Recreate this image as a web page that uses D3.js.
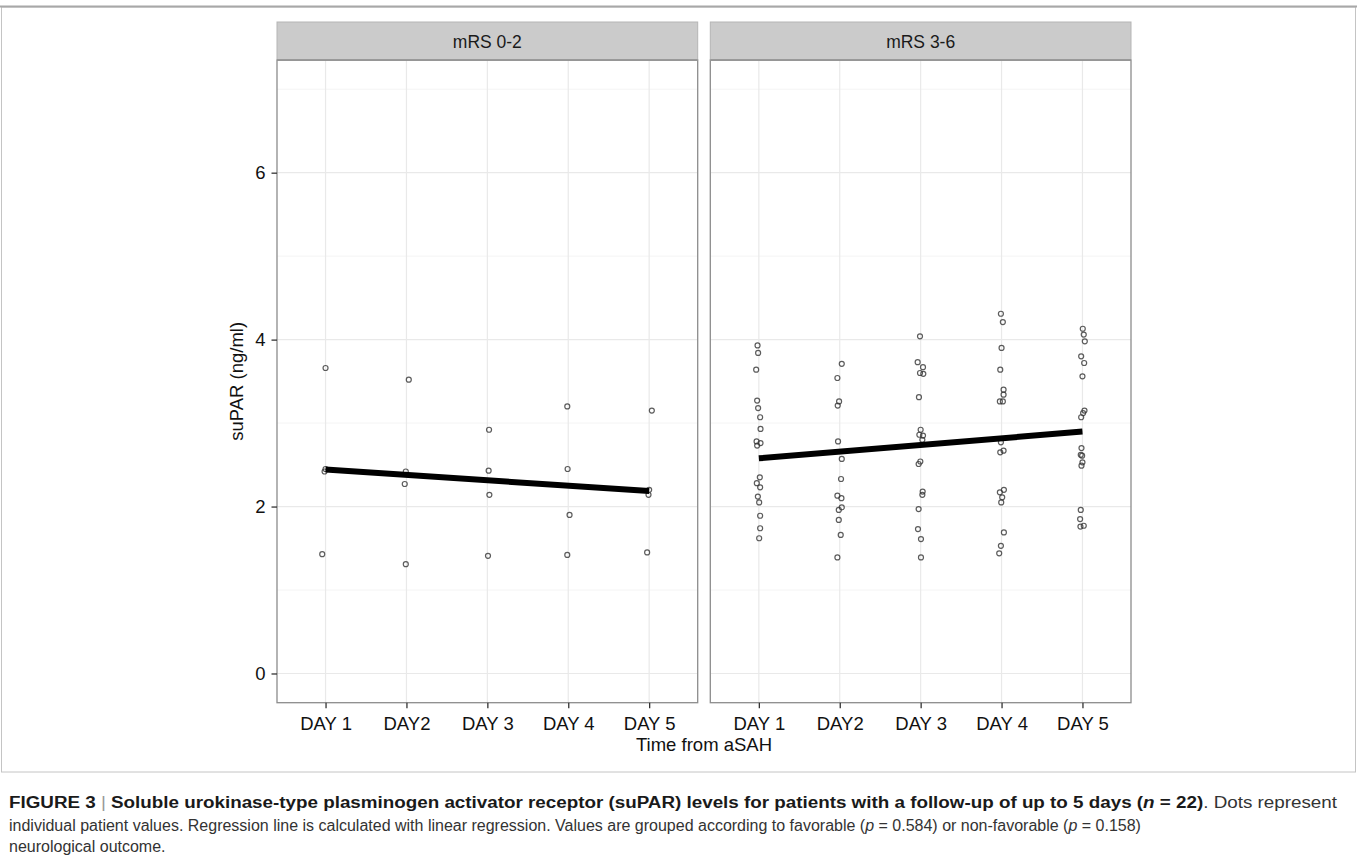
<!DOCTYPE html>
<html>
<head>
<meta charset="utf-8">
<script src="https://cdn.jsdelivr.net/npm/d3@7"></script>
<style>
  html, body { margin: 0; padding: 0; background: #fff; }
  svg { display: block; font-family: "Liberation Sans", Arial, sans-serif; }
</style>
</head>
<body>
<svg id="chart" width="1357" height="868"></svg>
<script>
// ---------------- DATA ----------------
const days = ["DAY 1", "DAY2", "DAY 3", "DAY 4", "DAY 5"];
const panelLabels = ["mRS 0-2", "mRS 3-6"];
const yTicks = [0, 2, 4, 6];
const yMinorTicks = [1, 3, 5, 7];

// mRS 0-2 (favorable outcome), values per day
const favorableValues = [
  [3.66, 2.45, 2.42, 1.43],
  [3.52, 2.42, 2.27, 1.31],
  [2.92, 2.43, 2.14, 1.41],
  [3.20, 2.45, 1.90, 1.42],
  [3.15, 2.20, 2.14, 1.45]
];
// horizontal jitter of each point, as a fraction of the day spacing
const favorableJitter = [
  [0, 0, -0.012, -0.041],
  [0.029, -0.008, -0.021, -0.008],
  [0.021, 0.016, 0.025, 0.008],
  [-0.012, -0.008, 0.016, -0.012],
  [0.033, 0, -0.008, -0.025]
];

// mRS 3-6 (non-favorable outcome), values per day
const unfavorableValues = [
  [3.93, 3.84, 3.64, 3.27, 3.18, 3.07, 2.93, 2.78, 2.76, 2.73, 2.35, 2.28, 2.23, 2.12, 2.05, 1.89, 1.74, 1.62],
  [3.71, 3.54, 3.26, 3.21, 2.78, 2.57, 2.33, 2.13, 2.10, 1.99, 1.96, 1.84, 1.66, 1.39],
  [4.04, 3.73, 3.67, 3.60, 3.59, 3.31, 2.92, 2.86, 2.85, 2.80, 2.54, 2.51, 2.18, 2.14, 1.97, 1.73, 1.61, 1.39],
  [4.31, 4.21, 3.90, 3.64, 3.40, 3.34, 3.26, 3.26, 2.77, 2.65, 2.67, 2.20, 2.17, 2.11, 2.05, 1.69, 1.53, 1.44],
  [4.13, 4.06, 3.98, 3.80, 3.72, 3.56, 3.15, 3.12, 3.07, 2.70, 2.62, 2.61, 2.53, 2.49, 1.96, 1.85, 1.76, 1.77]
];
const unfavorableJitter = [
  [-0.016, -0.009, -0.033, -0.021, -0.009, 0.016, 0.021, -0.028, 0.021, -0.021, 0.012, -0.025, 0.016, -0.012, 0.004, 0.016, 0.016, 0.004],
  [0.025, -0.029, -0.008, -0.025, -0.021, 0.025, 0.016, -0.029, 0.021, 0.025, -0.012, -0.012, 0.012, -0.029],
  [-0.008, -0.037, 0.029, -0.008, 0.033, -0.021, 0, -0.016, 0.029, 0.021, -0.004, -0.025, 0.025, 0.021, -0.025, -0.033, 0.004, 0.004],
  [-0.008, 0.016, 0, -0.016, 0.025, 0.025, -0.021, 0.016, -0.008, -0.016, 0.025, 0.029, -0.021, 0.008, -0.004, 0.029, -0.008, -0.029],
  [0.004, 0.016, 0.029, -0.016, 0.021, 0, 0.025, 0.008, -0.016, -0.012, -0.021, -0.004, 0, -0.012, -0.021, -0.029, -0.025, 0.016]
];

const yTitle = "suPAR (ng/ml)";
const xTitle = "Time from aSAH";

// ---------------- LAYOUT ----------------
const svg = d3.select("#chart");
svg.append("rect").attr("width", 1357).attr("height", 868).attr("fill", "#fff");

// figure frame
svg.append("rect").attr("x", 1.5).attr("y", 7).attr("width", 1354).attr("height", 765)
  .attr("fill", "none").attr("stroke", "#c4c4c4").attr("stroke-width", 1);
svg.append("line").attr("x1", 0).attr("x2", 1357).attr("y1", 6.5).attr("y2", 6.5)
  .attr("stroke", "#a8a8a8").attr("stroke-width", 2);

const panelTop = 60, panelBottom = 702.7, stripTop = 22;
const panelW = 420.7;
const panelX = [277, 710.3];

const y = d3.scaleLinear().domain([-0.35, 7.35]).range([panelBottom, panelTop]);

const panelsData = [
  { label: panelLabels[0], values: favorableValues, jitter: favorableJitter },
  { label: panelLabels[1], values: unfavorableValues, jitter: unfavorableJitter }
];

function olsFit(values) {
  const pts = [];
  values.forEach((arr, i) => arr.forEach(v => pts.push([i + 1, v])));
  const mx = d3.mean(pts, p => p[0]), my = d3.mean(pts, p => p[1]);
  const sxy = d3.sum(pts, p => (p[0] - mx) * (p[1] - my));
  const sxx = d3.sum(pts, p => (p[0] - mx) * (p[0] - mx));
  const b = sxy / sxx, a = my - b * mx;
  return [{ day: 0, v: a + b * 1 }, { day: days.length - 1, v: a + b * days.length }];
}

panelsData.forEach((pd, pi) => {
  const x0 = panelX[pi];
  const x = d3.scalePoint().domain(days).range([x0, x0 + panelW]).padding(0.6);
  const step = x.step();
  const g = svg.append("g");

  g.append("rect").attr("x", x0).attr("y", panelTop).attr("width", panelW)
    .attr("height", panelBottom - panelTop).attr("fill", "#fff");

  // minor grid
  g.selectAll(".minor").data(yMinorTicks).join("line")
    .attr("x1", x0).attr("x2", x0 + panelW)
    .attr("y1", d => y(d)).attr("y2", d => y(d))
    .attr("stroke", "#f4f4f4").attr("stroke-width", 1);
  // major grid
  g.selectAll(".major").data(yTicks).join("line")
    .attr("x1", x0).attr("x2", x0 + panelW)
    .attr("y1", d => y(d)).attr("y2", d => y(d))
    .attr("stroke", "#e9e9e9").attr("stroke-width", 1.2);
  g.selectAll(".vmajor").data(days).join("line")
    .attr("x1", d => x(d)).attr("x2", d => x(d))
    .attr("y1", panelTop).attr("y2", panelBottom)
    .attr("stroke", "#e9e9e9").attr("stroke-width", 1.2);

  // points
  const pts = [];
  pd.values.forEach((arr, di) => arr.forEach((v, k) => pts.push({ day: days[di], v, j: pd.jitter[di][k] })));
  g.selectAll("circle").data(pts).join("circle")
    .attr("cx", d => x(d.day) + d.j * step)
    .attr("cy", d => y(d.v))
    .attr("r", 2.5)
    .attr("fill", "none")
    .attr("stroke", "#333")
    .attr("stroke-opacity", 0.8)
    .attr("stroke-width", 1.2);

  // regression line (ordinary least squares on the plotted values)
  const fit = olsFit(pd.values);
  g.append("path")
    .attr("d", d3.line().x(d => x(days[d.day])).y(d => y(d.v))(fit))
    .attr("fill", "none").attr("stroke", "#000").attr("stroke-width", 6);

  // panel border
  g.append("rect").attr("x", x0).attr("y", panelTop).attr("width", panelW)
    .attr("height", panelBottom - panelTop).attr("fill", "none")
    .attr("stroke", "#8c8c8c").attr("stroke-width", 1.3);

  // strip
  g.append("rect").attr("x", x0).attr("y", stripTop).attr("width", panelW)
    .attr("height", panelTop - stripTop).attr("fill", "#cbcbcb")
    .attr("stroke", "#b5b5b5").attr("stroke-width", 1);
  g.append("line").attr("x1", x0).attr("x2", x0 + panelW).attr("y1", panelTop).attr("y2", panelTop)
    .attr("stroke", "#8c8c8c").attr("stroke-width", 1.3);
  g.append("text").attr("x", x0 + panelW / 2).attr("y", 48.3)
    .attr("text-anchor", "middle").attr("font-size", 17.5).attr("fill", "#1a1a1a")
    .text(pd.label);

  // x axis
  const xAxis = d3.axisBottom(x).tickSize(5.5).tickPadding(5);
  const ax = svg.append("g").attr("transform", `translate(0,${panelBottom})`).call(xAxis);
  ax.select(".domain").remove();
  ax.selectAll(".tick line").attr("stroke", "#333").attr("stroke-width", 1.3);
  ax.selectAll(".tick text").attr("font-size", 18.5).attr("fill", "#111")
    .attr("font-family", "Liberation Sans, Arial, sans-serif").attr("dy", "0.92em");

  if (pi === 0) {
    const yAxis = d3.axisLeft(y).tickValues(yTicks).tickSize(5.5).tickPadding(6);
    const ay = svg.append("g").attr("transform", `translate(${x0},0)`).call(yAxis);
    ay.select(".domain").remove();
    ay.selectAll(".tick line").attr("stroke", "#333").attr("stroke-width", 1.3);
    ay.selectAll(".tick text").attr("font-size", 18.5).attr("fill", "#111")
      .attr("font-family", "Liberation Sans, Arial, sans-serif");
  }
});

// axis titles
svg.append("text").attr("transform", `translate(242.5,${(panelTop + panelBottom) / 2}) rotate(-90)`)
  .attr("text-anchor", "middle").attr("font-size", 18.5).attr("fill", "#111").text(yTitle);
svg.append("text").attr("x", (panelX[0] + panelX[1] + panelW) / 2).attr("y", 750.5)
  .attr("text-anchor", "middle").attr("font-size", 18.5).attr("fill", "#111").text(xTitle);

// ---------------- CAPTION ----------------
const cap = svg.append("g").attr("fill", "#333");
const capSize = 16;
const line1 = cap.append("text").attr("x", 9).attr("y", 807.5).attr("font-size", capSize);
line1.append("tspan").attr("font-weight", "bold").attr("fill", "#1a1a1a").text("FIGURE 3 ");
line1.append("tspan").attr("fill", "#999").text("| ");
line1.append("tspan").attr("font-weight", "bold").attr("fill", "#1a1a1a").text("Soluble urokinase-type plasminogen activator receptor (suPAR) levels for patients with a follow-up of up to 5 days (");
line1.append("tspan").attr("font-weight", "bold").attr("font-style", "italic").attr("fill", "#1a1a1a").text("n");
line1.append("tspan").attr("font-weight", "bold").attr("fill", "#1a1a1a").text(" = 22)");
line1.append("tspan").text(". Dots represent");
line1.attr("textLength", 1328).attr("lengthAdjust", "spacingAndGlyphs");

const line2 = cap.append("text").attr("x", 9).attr("y", 830.5).attr("font-size", capSize);
line2.append("tspan").text("individual patient values. Regression line is calculated with linear regression. Values are grouped according to favorable (");
line2.append("tspan").attr("font-style", "italic").text("p");
line2.append("tspan").text(" = 0.584) or non-favorable (");
line2.append("tspan").attr("font-style", "italic").text("p");
line2.append("tspan").text(" = 0.158)");

cap.append("text").attr("x", 9).attr("y", 852).attr("font-size", capSize).text("neurological outcome.");
</script>
</body>
</html>
